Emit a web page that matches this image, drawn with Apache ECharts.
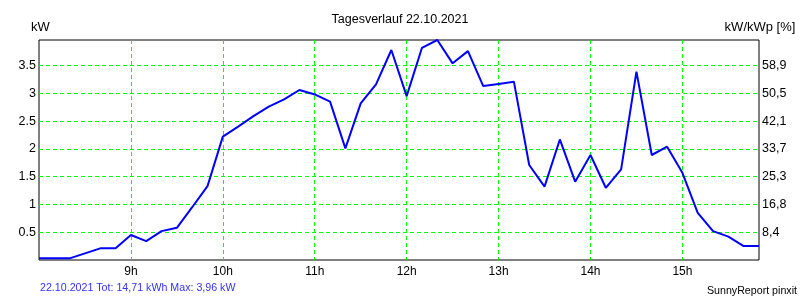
<!DOCTYPE html>
<html>
<head>
<meta charset="utf-8">
<script src="https://cdn.jsdelivr.net/npm/echarts@6/dist/echarts.min.js"></script>
<style>
html,body{margin:0;padding:0;background:#fff;}
#chart{width:800px;height:300px;}
</style>
</head>
<body>
<div id="chart"></div>
<script>
// Times (hh:mm) and power (kW)
const times = ['8:00','8:10','8:20','8:30','8:40','8:50','9:00','9:10','9:20','9:30','9:40','9:50',
  '10:00','10:10','10:20','10:30','10:40','10:50','11:00','11:10','11:20','11:30','11:40','11:50',
  '12:00','12:10','12:20','12:30','12:40','12:50','13:00','13:10','13:20','13:30','13:40','13:50',
  '14:00','14:10','14:20','14:30','14:40','14:50','15:00','15:10','15:20','15:30','15:40','15:50'];
const powerKW = [0.03,0.03,0.03,0.12,0.21,0.21,0.45,0.34,0.52,0.58,0.95,1.33,
  2.22,2.40,2.59,2.76,2.89,3.06,2.98,2.85,2.01,2.82,3.16,3.78,
  2.95,3.82,3.96,3.54,3.76,3.13,3.17,3.21,1.71,1.32,2.17,1.41,
  1.89,1.30,1.63,3.39,1.89,2.04,1.57,0.85,0.52,0.42,0.25,0.25];

const xTickHours = [9,10,11,12,13,14,15];
const xTickLabels = ['9h','10h','11h','12h','13h','14h','15h'];
const leftTickValues = [0.5,1,1.5,2,2.5,3,3.5];
const leftTickLabels = ['0.5','1','1.5','2','2.5','3','3.5'];
const rightTickLabels = ['8,4','16,8','25,3','33,7','42,1','50,5','58,9'];

const titleText = 'Tagesverlauf 22.10.2021';
const leftAxisName = 'kW';
const rightAxisName = 'kW/kWp [%]';
const footerLeft = '22.10.2021 Tot: 14,71 kWh Max: 3,96 kW';
const footerRight = 'SunnyReport pinxit';

function toMin(s){ const p = s.split(':'); return (+p[0])*60 + (+p[1]); }
const seriesData = times.map((t,i)=>[toMin(t), powerKW[i]]);

function lookup(vals, labels, v){
  for (let i=0;i<vals.length;i++){ if (Math.abs(vals[i]-v)<1e-6) return labels[i]; }
  return '';
}

const FONT = '"Liberation Sans", Arial, sans-serif';
const gridLine = {show:true, showMinLine:false, showMaxLine:false, lineStyle:{color:'#00ff00', type:[4,3], width:1}};

const chart = echarts.init(document.getElementById('chart'), null, {renderer:'canvas'});
chart.setOption({
  backgroundColor:'#fff',
  animation:false,
  grid:{left:39, right:41, top:40, height:220, show:true, borderColor:'#000', borderWidth:1, backgroundColor:'transparent'},
  xAxis:{
    type:'value', min:480, max:950, interval:60,
    axisLine:{show:false}, axisTick:{show:false},
    splitLine:gridLine,
    axisLabel:{showMinLabel:false, showMaxLabel:false, margin:6, color:'#000', fontSize:12, fontFamily:FONT,
      formatter:v=>lookup(xTickHours, xTickLabels, v/60)}
  },
  yAxis:[{
    type:'value', min:0, max:3.96, interval:0.5, position:'left',
    axisLine:{show:false}, axisTick:{show:false},
    splitLine:gridLine,
    axisLabel:{showMinLabel:false, showMaxLabel:false, margin:3, color:'#000', fontSize:12.5, fontFamily:FONT,
      formatter:v=>lookup(leftTickValues, leftTickLabels, v)}
  },{
    type:'value', min:0, max:3.96, interval:0.5, position:'right',
    axisLine:{show:false}, axisTick:{show:false}, splitLine:{show:false},
    axisLabel:{showMinLabel:false, showMaxLabel:false, margin:3, color:'#000', fontSize:12.5, fontFamily:FONT,
      formatter:v=>lookup(leftTickValues, rightTickLabels, v)}
  }],
  series:[{
    type:'line', data:seriesData, yAxisIndex:0, symbol:'none',
    lineStyle:{color:'#0000ff', width:2}, z:5
  }],
  graphic:[
    {type:'text', left:'center', x:0, top:13, style:{text:titleText, font:'12.5px '+FONT, fill:'#000'}},
    {type:'text', x:40.5, y:27, style:{text:leftAxisName, font:'13px '+FONT, fill:'#000', textAlign:'center', textVerticalAlign:'middle'}},
    {type:'text', x:760, y:27, style:{text:rightAxisName, font:'13px '+FONT, fill:'#000', textAlign:'center', textVerticalAlign:'middle'}},
    {type:'text', x:40, y:288.5, style:{text:footerLeft, font:'10.67px '+FONT, fill:'#3333ff', textAlign:'left', textVerticalAlign:'middle'}},
    {type:'text', x:797, y:291.5, style:{text:footerRight, font:'10.67px '+FONT, fill:'#000', textAlign:'right', textVerticalAlign:'middle'}}
  ]
});
</script>
</body>
</html>
